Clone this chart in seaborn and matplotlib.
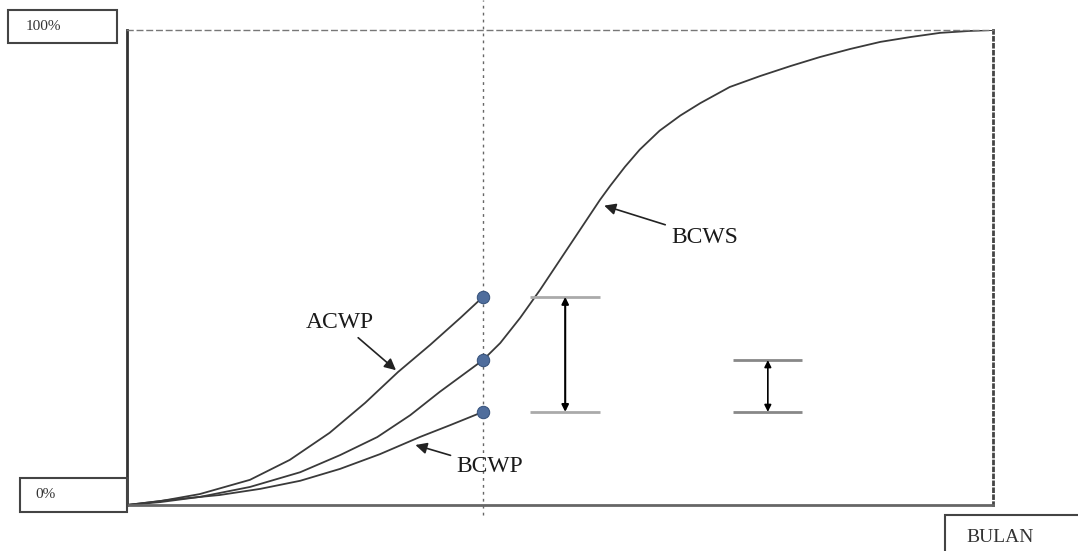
import numpy as np
import pandas as pd
import matplotlib
matplotlib.use("Agg")
import matplotlib.pyplot as plt
from matplotlib.patches import Rectangle
import seaborn as sns

# data (x = time %, y = cumulative cost %)
bcws_x = [0, 3.8, 8.4, 14.2, 20.0, 24.6, 28.9, 32.7, 36.1, 41.1, 43.1, 45.4, 47.7, 50.0, 52.3, 54.6,
          55.8, 57.5, 59.2, 61.5, 63.9, 66.2, 69.6, 73.1, 76.6, 80.0, 83.5, 87.0, 90.4, 93.9, 97.3, 100]
bcws_y = [0, 0.6, 1.7, 3.8, 6.9, 10.5, 14.3, 18.9, 23.8, 30.5, 34.1, 39.4, 45.3, 51.6, 57.9, 64.2,
          67.2, 71.2, 74.8, 78.8, 82.0, 84.6, 88.0, 90.3, 92.4, 94.3, 96.0, 97.5, 98.5, 99.4, 99.8, 100]
acwp_x = [0, 3.8, 8.4, 14.2, 18.8, 23.4, 27.5, 31.3, 35.0, 38.5, 41.1]
acwp_y = [0, 0.8, 2.3, 5.3, 9.5, 15.2, 21.5, 28.0, 33.7, 39.4, 43.8]
bcwp_x = [0, 5.0, 10.7, 15.4, 20.0, 24.6, 29.2, 33.8, 37.3, 41.1]
bcwp_y = [0, 1.1, 2.1, 3.4, 5.1, 7.6, 10.7, 14.3, 16.8, 19.6]
t_now = 41.1

W, H = 1078, 551
sns.set_style("white")
plt.rcParams["font.family"] = ["Liberation Serif", "DejaVu Serif"]

fig = plt.figure(figsize=(W / 100, H / 100), dpi=100)
ax = fig.add_axes([127 / W, (H - 505) / H, 866 / W, 475 / H])

line_kw = dict(color="#3a3a3a", linewidth=1.3, ax=ax)
sns.lineplot(data=pd.DataFrame({"t": bcws_x, "v": bcws_y}), x="t", y="v", **line_kw)
sns.lineplot(data=pd.DataFrame({"t": acwp_x, "v": acwp_y}), x="t", y="v", **line_kw)
sns.lineplot(data=pd.DataFrame({"t": bcwp_x, "v": bcwp_y}), x="t", y="v", **line_kw)

# titik pada waktu pelaporan
bcws_now = np.interp(t_now, bcws_x, bcws_y)
pts = pd.DataFrame({"t": [acwp_x[-1], t_now, bcwp_x[-1]],
                    "v": [acwp_y[-1], bcws_now, bcwp_y[-1]]})
sns.scatterplot(data=pts, x="t", y="v", color="#4f6d9c", edgecolor="#34507a",
                s=80, zorder=5, ax=ax, clip_on=False)

# garis waktu pelaporan
ax.axvline(t_now, ymin=-10 / 475, ymax=505 / 475, color="#666666", linestyle=(0, (2, 3)),
           linewidth=1, clip_on=False)

# selisih biaya dan jadwal
ax.hlines([acwp_y[-1], bcwp_y[-1]], 46.5, 54.6, color="#aaaaaa", linewidth=2)
ax.annotate("", xy=(50.6, acwp_y[-1]), xytext=(50.6, bcwp_y[-1]),
            arrowprops=dict(arrowstyle="<|-|>", color="black", lw=1.5, shrinkA=0, shrinkB=0))
ax.hlines([bcws_now, bcwp_y[-1]], 70, 78, color="#888888", linewidth=2)
ax.annotate("", xy=(74, bcws_now), xytext=(74, bcwp_y[-1]),
            arrowprops=dict(arrowstyle="<|-|>", color="black", lw=1.2, shrinkA=0, shrinkB=0))

# label kurva
arrow = dict(arrowstyle="-|>", color="#222222", lw=1.2)
txt = dict(fontsize=17, ha="center", va="center", color="#1a1a1a")
ax.annotate("ACWP", xy=(31.3, 28.0), xytext=(24.6, 38.5), arrowprops=arrow, **txt)
ax.annotate("BCWS", xy=(54.8, 63.2), xytext=(66.7, 56.4), arrowprops=arrow, **txt)
ax.annotate("BCWP", xy=(33.0, 12.8), xytext=(41.9, 8.0), arrowprops=arrow, **txt)

ax.set_xlim(0, 100)
ax.set_ylim(0, 100)
ax.set_xticks([])
ax.set_yticks([])
ax.set_xlabel("")
ax.set_ylabel("")
ax.spines["left"].set(color="#333333", linewidth=2)
ax.spines["bottom"].set(color="#666666", linewidth=2)
ax.spines["top"].set(color="#777777", linewidth=1, linestyle=(0, (4, 3)))
ax.spines["right"].set(color="#444444", linewidth=2, linestyle=(0, (1, 1.5)))


def px_box(x0, y0, x1, y1):
    fig.add_artist(Rectangle((x0 / W, 1 - y1 / H), (x1 - x0) / W, (y1 - y0) / H,
                             transform=fig.transFigure, fill=False,
                             edgecolor="#444444", linewidth=1.5))


px_box(8, 10, 117, 43)
fig.text(26 / W, 1 - 27 / H, "100%", fontsize=11, va="center", color="#333333")
px_box(20, 478, 127, 512)
fig.text(35 / W, 1 - 495 / H, "0%", fontsize=11, va="center", color="#333333")
px_box(945, 515, 1090, 570)
fig.text(1000 / W, 1 - 537 / H, "BULAN", fontsize=14, ha="center", va="center", color="#333333")

fig.savefig("out.png", dpi=100)
